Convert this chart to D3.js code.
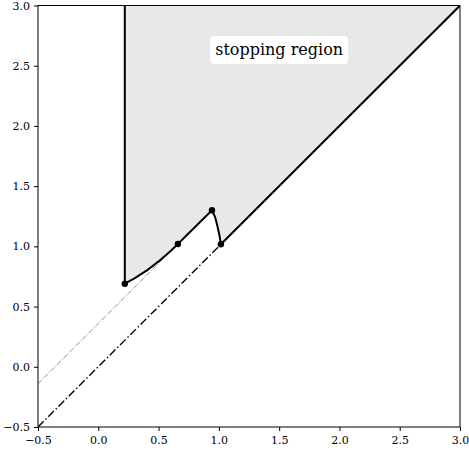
<!DOCTYPE html>
<html>
<head>
<meta charset="utf-8">
<script src="https://cdn.jsdelivr.net/npm/d3@7"></script>
<style>
  body { margin: 0; background: #fff; }
  text { font-family: 'DejaVu Serif', serif; }
</style>
</head>
<body>
<div id="chart-area"></div>
<script>
// data
var ticks = [-0.5, 0.0, 0.5, 1.0, 1.5, 2.0, 2.5, 3.0];
var boundaryX = 0.22;
// lower boundary of stopping region, left to right
var curveX = [0.22, 0.30, 0.40, 0.50, 0.60, 0.66, 0.943, 0.97, 0.99, 1.005, 1.017];
var curveY = [0.69, 0.734, 0.798, 0.875, 0.962, 1.02, 1.30, 1.24, 1.16, 1.09, 1.017];
// marked points
var dotX = [0.22, 0.66, 0.943, 1.017];
var dotY = [0.69, 1.02, 1.30, 1.017];
// tangent line (thin) and diagonal
var tangentX = [-0.5, 0.66];
var tangentY = [-0.14, 1.02];
var diagX = [-0.5, 1.017];
var diagY = [-0.5, 1.017];
var diagSolidX = [1.017, 3.0];
var diagSolidY = [1.017, 3.0];

var margin = {left: 38, right: 9, top: 5.5, bottom: 23};
var width = 469 - margin.left - margin.right;
var height = 450 - margin.top - margin.bottom;

var svg = d3.select('#chart-area')
  .append('svg')
  .attr('width', 469)
  .attr('height', 450);

var g = svg.append('g')
  .attr('transform', 'translate(' + margin.left + ', ' + margin.top + ')');

var x = d3.scaleLinear().domain([-0.5, 3.0]).range([0, width]);
var y = d3.scaleLinear().domain([-0.5, 3.0]).range([height, 0]);

g.append('clipPath').attr('id', 'clip')
  .append('rect').attr('width', width).attr('height', height);

var plot = g.append('g').attr('clip-path', 'url(#clip)');

var line = d3.line()
  .x(function (d) { return x(d[0]); })
  .y(function (d) { return y(d[1]); });

function pairs(xs, ys) {
  return xs.map(function (v, i) { return [v, ys[i]]; });
}

// shaded region
var curve = pairs(curveX, curveY);
var region = [[boundaryX, 3.0], [3.0, 3.0]].concat(curve.slice().reverse());
plot.append('path')
  .attr('d', line(region) + 'Z')
  .attr('fill', '#e8e8e8')
  .attr('stroke', 'none');

// thin tangent line
plot.append('path')
  .attr('d', line(pairs(tangentX, tangentY)))
  .attr('fill', 'none')
  .attr('stroke', '#555')
  .attr('stroke-width', 0.7)
  .attr('stroke-dasharray', '5,1.5,1,1.5');

// dash-dot diagonal
plot.append('path')
  .attr('d', line(pairs(diagX, diagY)))
  .attr('fill', 'none')
  .attr('stroke', '#000')
  .attr('stroke-width', 1.4)
  .attr('stroke-dasharray', '8,2.5,1.5,2.5');

// solid boundaries
plot.append('path')
  .attr('d', line([[boundaryX, 3.0], [boundaryX, curveY[0]]]))
  .attr('fill', 'none')
  .attr('stroke', '#000')
  .attr('stroke-width', 2);

plot.append('path')
  .attr('d', line(curve))
  .attr('fill', 'none')
  .attr('stroke', '#000')
  .attr('stroke-width', 2)
  .attr('stroke-linejoin', 'round');

plot.append('path')
  .attr('d', line(pairs(diagSolidX, diagSolidY)))
  .attr('fill', 'none')
  .attr('stroke', '#000')
  .attr('stroke-width', 2);

// dots
plot.selectAll('circle')
  .data(pairs(dotX, dotY))
  .enter()
  .append('circle')
  .attr('cx', function (d) { return x(d[0]); })
  .attr('cy', function (d) { return y(d[1]); })
  .attr('r', 3.2)
  .attr('fill', '#000');

// label
var lx = x(1.5), ly = y(2.63);
g.append('rect')
  .attr('x', lx - 69)
  .attr('y', ly - 14)
  .attr('width', 138)
  .attr('height', 28)
  .attr('rx', 4)
  .attr('fill', '#fff');
g.append('text')
  .attr('x', lx)
  .attr('y', ly + 5)
  .attr('text-anchor', 'middle')
  .style('font-size', '16px')
  .style('font-family', "'DejaVu Serif', serif")
  .text('stopping region');

// axes
var fmt = d3.format('.1f');
var xAxis = g.append('g')
  .attr('transform', 'translate(0, ' + height + ')')
  .call(d3.axisBottom(x).tickValues(ticks).tickFormat(fmt).tickSize(4).tickPadding(5));
var yAxis = g.append('g')
  .call(d3.axisLeft(y).tickValues(ticks).tickFormat(fmt).tickSize(4).tickPadding(4));
[xAxis, yAxis].forEach(function (a) {
  a.attr('font-family', null).attr('font-size', null);
  a.select('.domain').remove();
  a.selectAll('text')
    .style('font-size', '11px')
    .style('font-family', "'DejaVu Serif', serif")
    .attr('fill', '#000');
  a.selectAll('line').attr('stroke', '#000');
});

// frame
g.append('rect')
  .attr('width', width)
  .attr('height', height)
  .attr('fill', 'none')
  .attr('stroke', '#000')
  .attr('stroke-width', 1);
</script>
</body>
</html>
